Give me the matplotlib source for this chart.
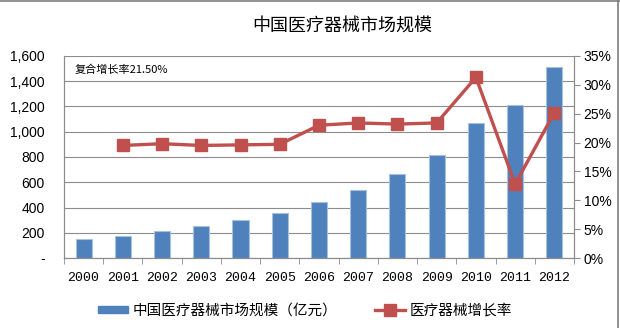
import matplotlib
matplotlib.use("Agg")
import matplotlib.pyplot as plt
from matplotlib.ticker import FuncFormatter, MultipleLocator
from matplotlib.lines import Line2D
from matplotlib.patches import Patch

plt.rcParams['font.family'] = ['Noto Sans CJK SC', 'DejaVu Sans']

years = ["2000", "2001", "2002", "2003", "2004", "2005", "2006",
         "2007", "2008", "2009", "2010", "2011", "2012"]
market_size = [148, 177, 213, 253, 301, 359, 440, 540, 668, 818, 1072, 1210, 1515]
growth_rate = [None, 19.5, 19.8, 19.5, 19.6, 19.7, 23.0, 23.4, 23.2, 23.4, 31.3, 12.8, 25.2]

bar_label = "中国医疗器械市场规模（亿元）"
line_label = "医疗器械增长率"
title = "中国医疗器械市场规模"
note = "复合增长率21.50%"

bar_color = "#4F81BD"
line_color = "#C0504D"
grid_color = "#8C8C8C"

fig = plt.figure(figsize=(6.2, 3.28), dpi=100)
ax = fig.add_axes([0.1032, 0.2134, 0.8226, 0.6159])
ax2 = ax.twinx()

x = list(range(len(years)))
ax.bar(x, market_size, width=0.41, color=bar_color, edgecolor="#A7C0DE",
       linewidth=0.8, zorder=2)
ax.set_xlim(-0.5, len(years) - 0.5)
ax.set_ylim(0, 1600)
ax.yaxis.set_major_locator(MultipleLocator(200))
ax.yaxis.set_major_formatter(FuncFormatter(lambda v, p: "-" if v == 0 else f"{int(v):,}"))
ax.grid(axis="y", color=grid_color, linewidth=0.8, zorder=0)
ax.set_axisbelow(True)

gx = [i for i, g in zip(x, growth_rate) if g is not None]
gy = [g for g in growth_rate if g is not None]
ax2.plot(gx, gy, color=line_color, linewidth=2.4, marker="s", markersize=8.5,
         markerfacecolor=line_color, markeredgecolor=line_color, zorder=3)
ax2.set_ylim(0, 35)
ax2.yaxis.set_major_locator(MultipleLocator(5))
ax2.yaxis.set_major_formatter(FuncFormatter(lambda v, p: f"{int(v)}%"))

ax.set_xticks(x)
ax.set_xticklabels(years, fontsize=9.5, family=['Liberation Mono', 'DejaVu Sans Mono'])
ax.set_xticks([i - 0.5 for i in range(len(years) + 1)], minor=True)
ax.tick_params(axis="x", which="major", length=0, pad=10)
ax.tick_params(axis="x", which="minor", length=4, color=grid_color)
ax.tick_params(axis="y", length=0, labelsize=10, pad=14)
ax2.tick_params(axis="y", length=4, color=grid_color, labelsize=10, pad=3)
for lab in ax.get_yticklabels() + ax2.get_yticklabels():
    lab.set_family(['Liberation Sans', 'DejaVu Sans'])

for a in (ax, ax2):
    a.spines["top"].set_visible(False)
    for s in ("left", "right", "bottom"):
        a.spines[s].set_color(grid_color)
        a.spines[s].set_linewidth(0.8)

fig.text(0.552, 0.922, title, ha="center", va="center", fontsize=13)
ax.text(0.02, 0.93, note, transform=ax.transAxes, fontsize=8, va="center")

bar_handle = Patch(facecolor=bar_color, edgecolor=bar_color)
line_handle = Line2D([0], [0], color=line_color, linewidth=2.4, marker="s",
                     markersize=8, markerfacecolor=line_color)
common = dict(loc="center left", frameon=False, fontsize=10.5, borderpad=0,
              borderaxespad=0, handlelength=2.05, handleheight=0.45,
              handletextpad=0.3)
fig.legend([bar_handle], [bar_label], bbox_to_anchor=(98 / 620, 0.053), **common)
fig.legend([line_handle], [line_label], bbox_to_anchor=(375 / 620, 0.053), **common)

# thin outer frame along the top and right edges
fig.add_artist(Line2D([0, 1], [0.997, 0.997], color="#7F7F7F", linewidth=1.2,
                      transform=fig.transFigure))
fig.add_artist(Line2D([0.997, 0.997], [0, 1], color="#7F7F7F", linewidth=1.2,
                      transform=fig.transFigure))

fig.savefig("out.png", dpi=100)
